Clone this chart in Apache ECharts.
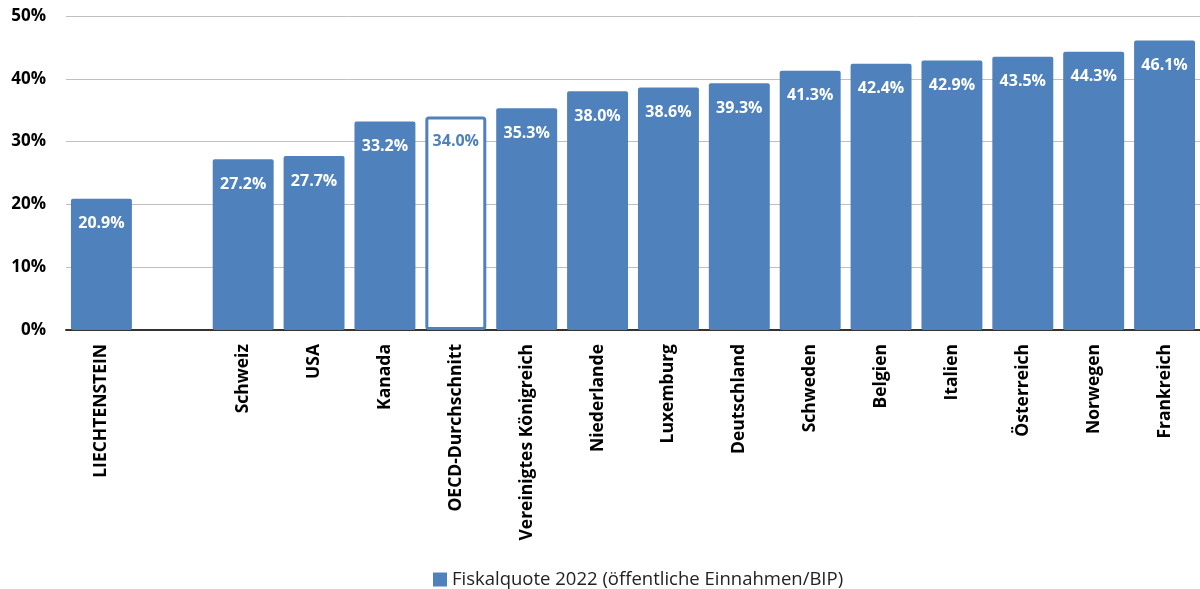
<!DOCTYPE html>
<html>
<head>
<meta charset="utf-8">
<script src="https://cdn.jsdelivr.net/npm/echarts@6/dist/echarts.min.js"></script>
<style>
  html, body { margin: 0; padding: 0; background: #fff; }
  #main { width: 1200px; height: 589px; }
</style>
</head>
<body>
<div id="main"></div>
<script>
// Länder (leere Kategorie = Lücke nach Liechtenstein)
const countries = ['LIECHTENSTEIN', '', 'Schweiz', 'USA', 'Kanada', 'OECD-Durchschnitt',
  'Vereinigtes Königreich', 'Niederlande', 'Luxemburg', 'Deutschland', 'Schweden',
  'Belgien', 'Italien', 'Österreich', 'Norwegen', 'Frankreich']
const quote2022 = [20.9, null, 27.2, 27.7, 33.2, 34.0, 35.3, 38.0, 38.6, 39.3, 41.3, 42.4, 42.9, 43.5, 44.3, 46.1]
const highlight = 'OECD-Durchschnitt'
const seriesName = 'Fiskalquote 2022 (öffentliche Einnahmen/BIP)'

const blue = '#4f81bd'
const font = 'Open Sans'

const chart = echarts.init(document.getElementById('main'))

const barData = quote2022.map((v, i) => {
  if (v === null) return '-'
  if (countries[i] === highlight) {
    return {
      value: v,
      itemStyle: { color: '#fff', borderColor: blue, borderWidth: 3 },
      label: { color: blue }
    }
  }
  return v
})

const option = {
  animation: false,
  textStyle: { fontFamily: font },
  grid: { left: 66, right: -2, top: 16, bottom: 259, containLabel: false },
  legend: {
    top: 565,
    left: 428,
    icon: 'rect',
    itemWidth: 14,
    itemHeight: 14,
    itemGap: 8,
    textStyle: { fontSize: 18.5, color: '#222', fontFamily: font },
    data: [seriesName]
  },
  xAxis: {
    type: 'category',
    data: countries,
    axisTick: { show: false },
    axisLine: { lineStyle: { color: '#333', width: 2 } },
    axisLabel: {
      rotate: 90,
      interval: 0,
      margin: 14,
      fontSize: 17.5,
      fontWeight: 'bold',
      color: '#000'
    }
  },
  yAxis: {
    type: 'value',
    min: 0,
    max: 50,
    interval: 10,
    axisLine: { show: false },
    axisTick: { show: false },
    splitLine: { lineStyle: { color: '#bfbfbf', width: 1 } },
    axisLabel: {
      formatter: '{value}%',
      fontSize: 17,
      fontWeight: 'bold',
      color: '#000',
      margin: 20
    }
  },
  series: [{
    name: seriesName,
    type: 'bar',
    data: barData,
    barWidth: '86%',
    itemStyle: { color: blue, borderRadius: 2 },
    label: {
      show: true,
      position: 'insideTop',
      distance: 17,
      formatter: p => p.value.toFixed(1) + '%',
      color: '#fff',
      fontSize: 16,
      fontWeight: 'bold'
    }
  }]
}

chart.setOption(option)
</script>
</body>
</html>
